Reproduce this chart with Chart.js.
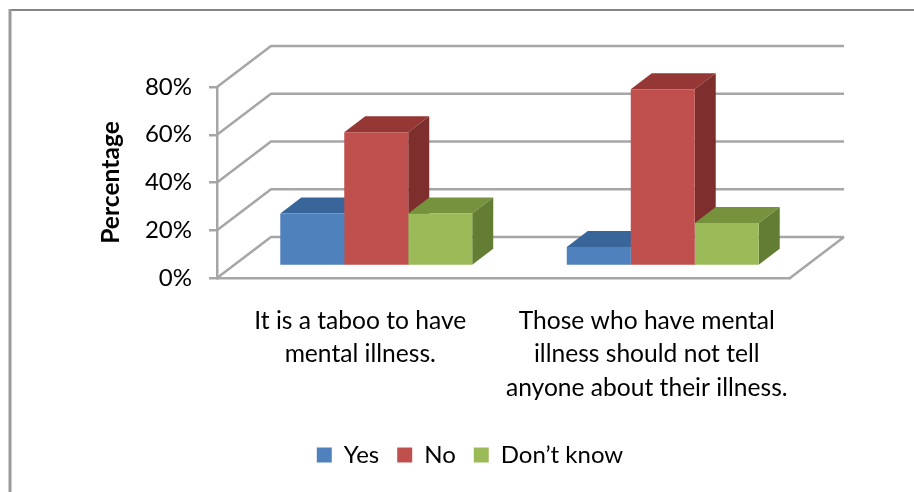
<!DOCTYPE html>
<html>
<head>
<meta charset="utf-8">
<style>
  html, body { margin: 0; padding: 0; background: #fff; }
  #box { width: 914px; height: 492px; }
</style>
</head>
<body>
<div id="box"><canvas id="grafico"></canvas></div>
<script src="https://cdn.jsdelivr.net/npm/chart.js@4"></script>
<script>
const categories = [
    ['It is a taboo to have', 'mental illness.'],
    ['Those who have mental', 'illness should not tell', 'anyone about their illness.']
];
const yes = [22, 8];
const no = [56, 74];
const dontKnow = [22, 18];
const yTicks = [0, 20, 40, 60, 80];

const lineColor = '#a6a6a6';
const depth = { x: 54, y: -41 };       // walls, front edge to back edge
const barShift = { x: 16, y: -12 };    // bars stand inside the floor
const barDepth = { x: 21, y: -16 };

// front colour, top face, side face
const faces = [
    ['#4f81bd', '#38659a', '#2f5580'],
    ['#c0504d', '#953735', '#7e2f2d'],
    ['#9bbb59', '#76923c', '#637d33']
];

function poly(ctx, color, pts) {
    ctx.fillStyle = color;
    ctx.beginPath();
    ctx.moveTo(pts[0][0], pts[0][1]);
    pts.slice(1).forEach(p => ctx.lineTo(p[0], p[1]));
    ctx.closePath();
    ctx.fill();
}

const walls3d = {
    id: 'walls3d',
    afterLayout(chart) {
        // legend sits right of the frame centre in the original
        chart.legend.left += 29;
        chart.legend.right += 29;
    },
    beforeDraw(chart) {
        const ctx = chart.ctx, area = chart.chartArea, y = chart.scales.y;
        ctx.save();
        // outer frame, only top and left are in the picture
        ctx.strokeStyle = '#868686';
        ctx.lineWidth = 2;
        ctx.beginPath();
        ctx.moveTo(10, 10);
        ctx.lineTo(914, 10);
        ctx.stroke();
        ctx.strokeStyle = '#9a9a9a';
        ctx.lineWidth = 3;
        ctx.beginPath();
        ctx.moveTo(10, 9);
        ctx.lineTo(10, 492);
        ctx.stroke();
        // side wall and back wall
        ctx.strokeStyle = lineColor;
        ctx.lineWidth = 2.5;
        ctx.beginPath();
        yTicks.forEach(t => {
            const py = y.getPixelForValue(t);
            ctx.moveTo(area.left, py);
            ctx.lineTo(area.left + depth.x, py + depth.y);
            ctx.lineTo(area.right + depth.x, py + depth.y);
        });
        // floor right edge
        ctx.moveTo(area.right, area.bottom);
        ctx.lineTo(area.right + depth.x, area.bottom + depth.y);
        ctx.stroke();
        ctx.restore();
    },
    beforeDatasetsDraw(chart) {
        const ctx = chart.ctx;
        ctx.save();
        ctx.translate(barShift.x, barShift.y);
        const count = categories.length;
        for (let c = 0; c < count; c++) {
            chart.data.datasets.forEach((ds, i) => {
                const bar = chart.getDatasetMeta(i).data[c];
                const l = bar.x - bar.width / 2, r = bar.x + bar.width / 2;
                const dx = barDepth.x, dy = barDepth.y;
                poly(ctx, faces[i][1], [[l, bar.y], [r, bar.y], [r + dx, bar.y + dy], [l + dx, bar.y + dy]]);
                poly(ctx, faces[i][2], [[r, bar.y], [r + dx, bar.y + dy], [r + dx, bar.base + dy], [r, bar.base]]);
            });
        }
    },
    afterDatasetsDraw(chart) {
        chart.ctx.restore();
    }
};

new Chart(document.getElementById('grafico'), {
    type: 'bar',
    data: {
        labels: categories,
        datasets: [
            { label: 'Yes', data: yes, backgroundColor: faces[0][0] },
            { label: 'No', data: no, backgroundColor: faces[1][0] },
            { label: "Don\u2019t know", data: dontKnow, backgroundColor: faces[2][0] }
        ]
    },
    options: {
        responsive: true,
        maintainAspectRatio: false,
        animation: false,
        datasets: { bar: { categoryPercentage: 0.67, barPercentage: 1 } },
        layout: { padding: { left: 92, right: 124, top: 87, bottom: 15 } },
        plugins: {
            tooltip: { enabled: false },
            legend: {
                position: 'bottom',
                labels: {
                    color: '#000',
                    font: { family: 'Lato', size: 24 },
                    boxWidth: 15,
                    boxHeight: 15,
                    padding: 18
                }
            }
        },
        scales: {
            x: {
                afterFit(s) { s.height = 147; },
                grid: { display: false },
                border: { color: lineColor, width: 2.5 },
                ticks: {
                    color: '#000',
                    maxRotation: 0,
                    autoSkip: false,
                    padding: 18,
                    font: { family: 'Lato', size: 24.6, lineHeight: 1.37 }
                }
            },
            y: {
                min: 0,
                max: 80,
                afterFit(s) { s.width = 125; },
                afterBuildTicks(s) { s.ticks = yTicks.map(v => ({ value: v })); },
                grid: { drawOnChartArea: false, tickLength: 8, color: lineColor, lineWidth: 2.5 },
                border: { color: lineColor, width: 2.5 },
                ticks: {
                    color: '#000',
                    padding: 17,
                    font: { family: 'Lato', size: 24 },
                    callback: v => v + '%'
                },
                title: {
                    display: true,
                    text: 'Percentage',
                    color: '#000',
                    font: { family: 'Lato', size: 24.6, weight: 'bold' }
                }
            }
        }
    },
    plugins: [walls3d]
});
</script>
</body>
</html>
